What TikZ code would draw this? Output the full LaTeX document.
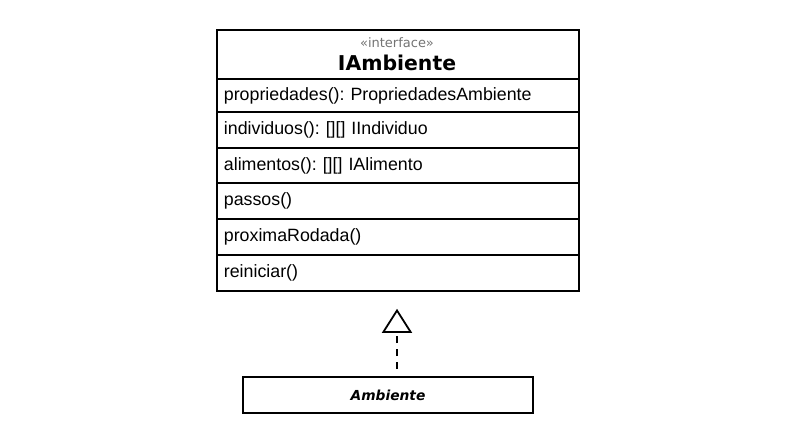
\documentclass[tikz,border=0pt]{standalone}
\usepackage{fontspec}
\setmainfont{Liberation Sans}
\newfontfamily\djv{DejaVu Sans}
\usetikzlibrary{arrows.meta}
\frenchspacing
\tikzset{
  umlbox/.style={draw=black, line width=1.8pt, anchor=north west, minimum width=362pt, inner sep=0pt},
  memberrow/.style={umlbox, text width=348pt, align=left, font=\frenchspacing\fontsize{17.8}{20}\selectfont},
  realize/.style={line width=1.8pt, dash pattern=on 7pt off 6pt, -{Triangle[open, length=24pt, width=30pt, line width=1.8pt]}}
}
\begin{document}
\begin{tikzpicture}[x=1pt,y=-1pt]
\useasboundingbox (0,0) rectangle (794,447);
\node[umlbox, minimum height=49pt] (head) at (216,29) {};
\node[font=\djv\fontsize{13}{15}\selectfont, text=black!55] (stereo) at (397,43) {«interface»};
\node[font=\djv\bfseries\fontsize{20.4}{24}\selectfont] (name) at (397,63) {IAmbiente};
\node[memberrow, minimum height=33pt] (m1) at (216,78) {propriedades(): PropriedadesAmbiente};
\node[memberrow, minimum height=36pt] (m2) at (216,111) {individuos(): [][] IIndividuo};
\node[memberrow, minimum height=35pt] (m3) at (216,147) {alimentos(): [][] IAlimento};
\node[memberrow, minimum height=36pt] (m4) at (216,182) {passos()};
\node[memberrow, minimum height=36pt] (m5) at (216,218) {proximaRodada()};
\node[memberrow, minimum height=36pt] (m6) at (216,254) {reiniciar()};
\node[draw=black, line width=1.8pt, minimum width=290pt, minimum height=36pt, inner sep=0pt,
      font=\djv\bfseries\itshape\fontsize{13.8}{16}\selectfont] (amb) at (388,395) {Ambiente};
\draw[realize, shorten <=7pt, shorten >=17pt] (amb.north -| 397,0) -- (m6.south -| 397,0);
\end{tikzpicture}
\end{document}
